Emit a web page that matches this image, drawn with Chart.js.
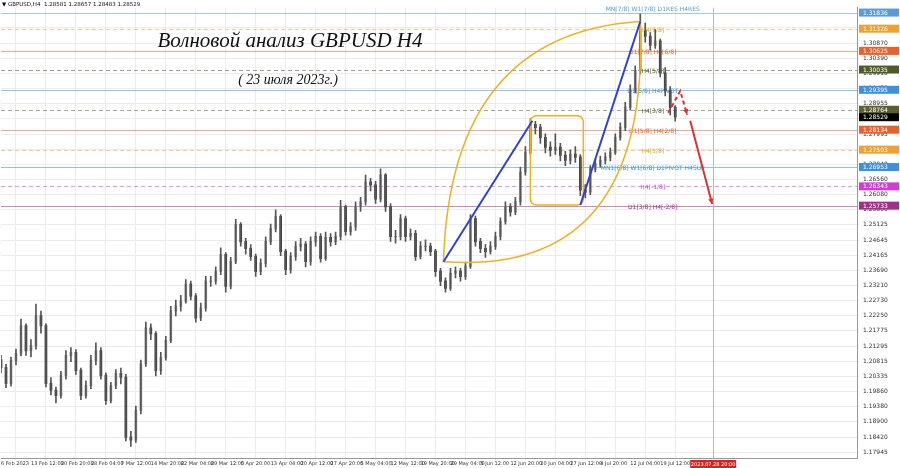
<!DOCTYPE html>
<html>
<head>
<meta charset="utf-8">
<script src="https://cdn.jsdelivr.net/npm/chart.js@4"></script>
<style>
  body { margin: 0; background: #fff; }
  #wrap { width: 900px; height: 468px; }
</style>
</head>
<body>
<div id="wrap"><canvas id="fxChart" width="900" height="468"></canvas></div>
<script>
// H4 candles (one every ~5px)
const closes = [1.2061,1.2011,1.2083,1.2105,1.2193,1.2114,1.2130,1.2224,1.2193,1.2011,
1.1989,1.1973,1.2036,1.2099,1.2108,1.2052,1.1973,1.2004,1.2083,1.2114,
1.2036,1.1957,1.2004,1.2042,1.2030,1.1841,1.1832,1.1926,1.2073,1.2186,
1.2168,1.2052,1.2092,1.2146,1.2240,1.2255,1.2271,1.2324,1.2287,1.2218,
1.2249,1.2334,1.2334,1.2365,1.2418,1.2318,1.2396,1.2513,1.2459,1.2437,
1.2412,1.2365,1.2390,1.2459,1.2500,1.2538,1.2428,1.2371,1.2412,1.2444,
1.2450,1.2396,1.2459,1.2475,1.2406,1.2472,1.2459,1.2475,1.2569,1.2491,
1.2506,1.2569,1.2585,1.2647,1.2638,1.2594,1.2669,1.2569,1.2475,1.2475,
1.2531,1.2475,1.2484,1.2412,1.2444,1.2444,1.2428,1.2365,1.2334,1.2312,
1.2359,1.2365,1.2349,1.2381,1.2531,1.2459,1.2437,1.2428,1.2444,1.2475,
1.2522,1.2569,1.2553,1.2585,1.2679,1.2741,1.2829,1.2820,1.2788,1.2757,
1.2748,1.2757,1.2732,1.2716,1.2735,1.2726,1.2622,1.2616,1.2688,1.2704,
1.2716,1.2726,1.2741,1.2788,1.2820,1.2883,1.2939,1.2999,1.3124,1.3108,
1.3080,1.3093,1.2992,1.2936,1.2883,1.2853];
const highs = [1.2100,1.2072,1.2095,1.2120,1.2215,1.2200,1.2150,1.2262,1.2240,1.2200,
1.2030,1.2000,1.2050,1.2115,1.2125,1.2118,1.2060,1.2020,1.2100,1.2140,
1.2125,1.2045,1.2015,1.2055,1.2060,1.2040,1.1860,1.1940,1.2085,1.2205,
1.2200,1.2175,1.2110,1.2160,1.2255,1.2275,1.2290,1.2340,1.2335,1.2295,
1.2265,1.2350,1.2350,1.2380,1.2440,1.2425,1.2410,1.2530,1.2520,1.2470,
1.2450,1.2420,1.2405,1.2475,1.2515,1.2560,1.2545,1.2435,1.2425,1.2460,
1.2470,1.2460,1.2475,1.2490,1.2485,1.2490,1.2485,1.2490,1.2590,1.2575,
1.2520,1.2585,1.2600,1.2670,1.2660,1.2650,1.2690,1.2675,1.2580,1.2495,
1.2545,1.2540,1.2500,1.2495,1.2460,1.2465,1.2455,1.2435,1.2375,1.2345,
1.2375,1.2380,1.2375,1.2395,1.2545,1.2540,1.2470,1.2450,1.2460,1.2490,
1.2535,1.2585,1.2580,1.2600,1.2695,1.2760,1.2848,1.2840,1.2830,1.2800,
1.2775,1.2800,1.2770,1.2745,1.2750,1.2760,1.2735,1.2640,1.2700,1.2720,
1.2730,1.2740,1.2755,1.2800,1.2835,1.2900,1.2955,1.3015,1.3180,1.3150,
1.3120,1.3130,1.3100,1.3010,1.2950,1.2890];
const lows = [1.2045,1.1998,1.2003,1.2070,1.2098,1.2100,1.2095,1.2120,1.2170,1.2000,
1.1975,1.1950,1.1965,1.2025,1.2080,1.2040,1.1960,1.1965,1.1995,1.2070,
1.2025,1.1945,1.1950,1.1995,1.2010,1.1830,1.1812,1.1825,1.1915,1.2065,
1.2150,1.2035,1.2040,1.2085,1.2140,1.2225,1.2240,1.2265,1.2275,1.2205,
1.2210,1.2240,1.2318,1.2325,1.2355,1.2300,1.2310,1.2390,1.2445,1.2420,
1.2400,1.2350,1.2355,1.2380,1.2450,1.2490,1.2415,1.2355,1.2360,1.2400,
1.2430,1.2380,1.2385,1.2445,1.2395,1.2400,1.2445,1.2450,1.2465,1.2480,
1.2480,1.2495,1.2555,1.2575,1.2620,1.2580,1.2585,1.2555,1.2460,1.2455,
1.2465,1.2460,1.2465,1.2400,1.2405,1.2430,1.2415,1.2350,1.2320,1.2300,
1.2305,1.2345,1.2335,1.2340,1.2375,1.2445,1.2425,1.2410,1.2420,1.2435,
1.2465,1.2515,1.2540,1.2545,1.2575,1.2670,1.2735,1.2800,1.2770,1.2740,
1.2730,1.2735,1.2715,1.2700,1.2705,1.2710,1.2605,1.2598,1.2608,1.2680,
1.2695,1.2705,1.2715,1.2735,1.2780,1.2810,1.2875,1.2930,1.2990,1.3090,
1.3065,1.3070,1.2980,1.2920,1.2860,1.2840];
const firstOpen = 1.2085;

const timeLabels = ['6 Feb 2023','13 Feb 12:00','20 Feb 20:00','28 Feb 04:00','7 Mar 12:00','14 Mar 20:00',
  '22 Mar 04:00','29 Mar 12:00','5 Apr 20:00','13 Apr 04:00','20 Apr 12:00','27 Apr 20:00','5 May 04:00',
  '12 May 12:00','19 May 20:00','29 May 04:00','5 Jun 12:00','12 Jun 20:00','20 Jun 04:00','27 Jun 12:00',
  '4 Jul 20:00','12 Jul 04:00','19 Jul 12:00'];
const priceTicks = [1.31350,1.30870,1.30390,1.29910,1.29430,1.28955,1.28475,1.27995,1.27515,1.27040,
  1.26560,1.26080,1.25600,1.25125,1.24645,1.24165,1.23690,1.23210,1.22730,1.22250,1.21775,1.21295,
  1.20815,1.20335,1.19860,1.19380,1.18900,1.18420,1.17945];

// Murrey-style levels: price, label, colour, dashed
const levelPrices = [1.31836,1.31326,1.30625,1.30035,1.29395,1.28764,1.28134,1.27503,1.26953,1.26343,1.25733];
const levelNames = ['MN[7/8] W1[7/8] D1RES H4RES','H4[7/8]','D1[7/8] H4[6/8]','H4[5/8]','D1[6/8] H4PIVOT',
  'H4[3/8]','D1[5/8] H4[2/8]','H4[1/8]','MN1[6/8] W1[6/8] D1PIVOT H4SUP','H4[-1/8]','D1[3/8] H4[-2/8]'];
const levelColors = ['#5b9bd5','#f0a030','#e8602c','#4f5a2a','#3d8fe0','#5a6030','#e8602c','#f0a030','#3d8fe0','#d040d0','#a0308a'];
const levelDashed = [false,true,false,true,false,true,false,true,false,true,false];
const lastPrice = 1.28529;
const futureIndex = 142.6;
const futureLabel = '2023.07.28 20:00';

// drawn figures, [index, price]
const blueLines = [[[88.6,1.23961],[106.4,1.28418]], [[116,1.25752],[128,1.31554]]];
const boxCorners = [[106,1.28574],[116.6,1.25752]];
const arcLeft = [[88.6,1.23961],[90,1.31177],[128,1.31554]];
const arcRight = [[88.6,1.23961],[130,1.23500],[128,1.31554]];
const redDashed = [[133.6,1.28668],[136,1.29358],[137.4,1.28606]];
const redSolid = [[138,1.28418],[142.4,1.25783]];

const candles = closes.map((c, i) => {
  const o = i === 0 ? firstOpen : closes[i - 1];
  return { i, o, c, h: highs[i], l: lows[i] };
});

const overlay = {
  id: 'overlay',
  beforeDatasetsDraw(chart) {
    const { ctx, chartArea: a, scales: { x, y } } = chart;
    ctx.save();
    levelPrices.forEach((p, k) => {
      const py = Math.round(y.getPixelForValue(p)) + 0.5;
      ctx.strokeStyle = levelColors[k];
      ctx.globalAlpha = 0.55;
      ctx.lineWidth = 1;
      ctx.setLineDash(levelDashed[k] ? [4, 3] : []);
      ctx.beginPath(); ctx.moveTo(a.left, py); ctx.lineTo(a.right, py); ctx.stroke();
    });
    ctx.setLineDash([]);
    ctx.globalAlpha = 1;
    ctx.font = '6px "DejaVu Sans"';
    ctx.textAlign = 'center';
    levelPrices.forEach((p, k) => {
      ctx.fillStyle = levelColors[k];
      ctx.fillText(levelNames[k], x.getPixelForValue(130.5), y.getPixelForValue(p) + (k === 0 ? -2 : 3));
    });
    const fx = Math.round(x.getPixelForValue(futureIndex)) + 0.5;
    ctx.strokeStyle = '#f4a0a0';
    ctx.beginPath(); ctx.moveTo(fx, a.top); ctx.lineTo(fx, a.bottom); ctx.stroke();
    ctx.restore();
  },
  afterDatasetsDraw(chart) {
    const { ctx, chartArea: a, scales: { x, y } } = chart;
    const P = pt => [x.getPixelForValue(pt[0]), y.getPixelForValue(pt[1])];
    ctx.save();
    ctx.strokeStyle = '#f0b020'; ctx.lineWidth = 1.5;
    [arcLeft, arcRight].forEach(arc => {
      const [s, c, e] = arc.map(P);
      ctx.beginPath(); ctx.moveTo(...s); ctx.quadraticCurveTo(...c, ...e); ctx.stroke();
    });
    const [b1, b2] = boxCorners.map(P);
    ctx.beginPath(); ctx.roundRect(b1[0], b1[1], b2[0] - b1[0], b2[1] - b1[1], 6); ctx.stroke();
    ctx.strokeStyle = '#3040d0'; ctx.lineWidth = 2;
    blueLines.forEach(l => {
      const [s, e] = l.map(P);
      ctx.beginPath(); ctx.moveTo(...s); ctx.lineTo(...e); ctx.stroke();
    });
    const head = (from, to) => {
      const ang = Math.atan2(to[1] - from[1], to[0] - from[0]);
      ctx.setLineDash([]);
      ctx.beginPath();
      ctx.moveTo(to[0], to[1]);
      ctx.lineTo(to[0] - 6 * Math.cos(ang - 0.45), to[1] - 6 * Math.sin(ang - 0.45));
      ctx.lineTo(to[0] - 6 * Math.cos(ang + 0.45), to[1] - 6 * Math.sin(ang + 0.45));
      ctx.closePath(); ctx.fill();
    };
    ctx.strokeStyle = '#e03030'; ctx.fillStyle = '#e03030'; ctx.lineWidth = 2;
    const d = redDashed.map(P);
    ctx.setLineDash([4, 3]);
    ctx.beginPath(); ctx.moveTo(...d[0]); ctx.lineTo(...d[1]); ctx.lineTo(...d[2]); ctx.stroke();
    head(d[1], d[2]);
    const r = redSolid.map(P);
    ctx.setLineDash([]);
    ctx.beginPath(); ctx.moveTo(...r[0]); ctx.lineTo(...r[1]); ctx.stroke();
    head(r[0], r[1]);

    ctx.fillStyle = '#111';
    ctx.textAlign = 'center';
    ctx.font = 'italic 21px "Liberation Serif"';
    ctx.fillText('Волновой анализ GBPUSD H4', 290, 47);
    ctx.font = 'italic 14px "Liberation Serif"';
    ctx.fillText('( 23 июля 2023г.)', 288, 84);
    ctx.textAlign = 'left';
    ctx.font = '5.5px "DejaVu Sans"';
    ctx.fillText('▼ GBPUSD,H4  1.28581 1.28657 1.28483 1.28529', 2, 6);

    ctx.font = '6px "DejaVu Sans"';
    const tag = (p, col) => {
      const py = y.getPixelForValue(p);
      ctx.fillStyle = col; ctx.fillRect(a.right + 2, py - 4, 40, 8);
      ctx.fillStyle = '#fff'; ctx.fillText(p.toFixed(5), a.right + 6, py + 2);
    };
    levelPrices.forEach((p, k) => tag(p, levelColors[k]));
    tag(lastPrice, '#000');
    const fx = x.getPixelForValue(futureIndex);
    ctx.font = '5px "DejaVu Sans"';
    ctx.fillStyle = '#e02020'; ctx.fillRect(fx - 23, a.bottom + 2, 46, 8);
    ctx.fillStyle = '#fff'; ctx.textAlign = 'center';
    ctx.fillText(futureLabel, fx, a.bottom + 8);
    ctx.restore();
  }
};

new Chart(document.getElementById('fxChart'), {
  type: 'bar',
  data: {
    datasets: [
      {
        label: 'wick',
        data: candles.map(k => ({ x: k.i, y: [k.l, k.h] })),
        backgroundColor: '#555',
        barThickness: 1,
        grouped: false
      },
      {
        label: 'body',
        data: candles.map(k => ({ x: k.i, y: [Math.min(k.o, k.c), Math.max(k.o, k.c) + 0.00015] })),
        backgroundColor: candles.map(k => k.c >= k.o ? '#999' : '#333'),
        borderWidth: 0,
        barThickness: 2,
        grouped: false
      }
    ]
  },
  options: {
    responsive: false,
    animation: false,
    devicePixelRatio: 1,
    layout: { padding: { top: 4, left: 0, right: 0, bottom: 0 } },
    plugins: { legend: { display: false }, tooltip: { enabled: false } },
    scales: {
      x: {
        type: 'linear', min: 0, max: 171.4, offset: false,
        afterBuildTicks: ax => { ax.ticks = timeLabels.map((_, k) => ({ value: k * 6 })); },
        afterFit: ax => { ax.height = 10; },
        ticks: {
          font: { size: 5, family: 'DejaVu Sans' }, color: '#333', maxRotation: 0, autoSkip: false, padding: 1,
          align: 'start',
          callback: (v) => timeLabels[Math.round(v / 6)] || ''
        },
        grid: { color: '#ececec', tickLength: 2 },
        border: { color: '#999' }
      },
      y: {
        position: 'right', min: 1.17757, max: 1.31993,
        afterBuildTicks: ax => { ax.ticks = priceTicks.map(v => ({ value: v })); },
        afterFit: ax => { ax.width = 43; },
        ticks: {
          font: { size: 6, family: 'DejaVu Sans' }, color: '#333', padding: 4,
          callback: v => v.toFixed(5)
        },
        grid: { color: '#ececec', tickLength: 2 },
        border: { color: '#999' }
      }
    }
  },
  plugins: [overlay]
});
</script>
</blockquote>
</body>
</html>
